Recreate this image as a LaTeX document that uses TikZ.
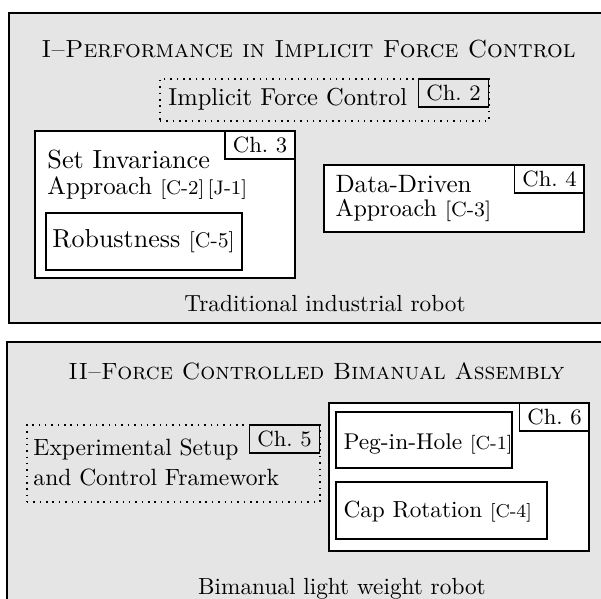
\documentclass[tikz,border=0pt]{standalone}
\usetikzlibrary{fit}
\newcommand{\fsz}[1]{\fontsize{#1}{#1}\selectfont}
\newcommand{\citeref}[2]{{\fsz{#1}#2}}
\begin{document}
\begin{tikzpicture}[x=0.408pt,y=-0.408pt,
  panel/.style={draw, line width=0.8pt, fill=gray!20, inner sep=0pt},
  box/.style={draw, line width=0.65pt, fill=white, inner sep=0pt},
  subbox/.style={draw, line width=0.5pt, fill=white, inner sep=0pt},
  dotbox/.style={draw, dotted, line width=0.6pt, inner sep=0pt},
  chbox/.style={draw, line width=0.55pt, inner sep=0pt,
    minimum width=70*0.408pt, minimum height=28*0.408pt, font=\fsz{9}},
  txt/.style={anchor=base west, inner sep=0pt},
  ctxt/.style={anchor=base, inner sep=0pt}]
\useasboundingbox (0,0) rectangle (601,598);
\clip (0,0) rectangle (601,598);
\fill[white] (0,0) rectangle (601,598);

% Panel I
\node[panel, fit={(9,13)(640,323)}] (p1) {};
\node[ctxt, font=\fsz{10.1}] (t1) at (308.5,57) {\textsc{I--Performance in Implicit Force Control}};

\node[dotbox, fit={(160,79)(489,121)}] (ifc) {};
\node[txt, font=\fsz{10}] (ifct) at (168,105) {Implicit Force Control};
\node[chbox] (ch2) at (453.5,93) {Ch.~2};

\node[box, fit={(35,131)(295,278)}] (si) {};
\node[chbox] (ch3) at (260,145) {Ch.~3};
\node[txt, font=\fsz{10.7}] (sit1) at (47,168) {Set Invariance};
\node[txt, font=\fsz{10.1}] (sit2) at (47,194) {Approach \citeref{8}{[C-2]\,[J-1]}};
\node[subbox, fit={(46,213)(242,270)}] (rob) {};
\node[txt, font=\fsz{10.6}] (robt) at (52,247) {Robustness \citeref{8.6}{[C-5]}};

\node[box, fit={(324,165)(584,232)}] (dd) {};
\node[chbox] (ch4) at (549.5,179) {Ch.~4};
\node[txt, font=\fsz{10.25}] (ddt1) at (335,192) {Data-Driven};
\node[txt, font=\fsz{9.8}] (ddt2) at (335,216) {Approach \citeref{8.4}{[C-3]}};

\node[ctxt, font=\fsz{9.5}] (r1) at (325,311) {Traditional industrial robot};

% Panel II
\node[panel, fit={(7,342)(640,640)}] (p2) {};
\node[ctxt, font=\fsz{9.6}] (t2) at (316.5,379) {\textsc{II--Force Controlled Bimanual Assembly}};

\node[dotbox, fit={(27,425)(320,502)}] (ex) {};
\node[chbox] (ch5) at (284.5,439) {Ch.~5};
\node[txt, font=\fsz{9.6}] (ext1) at (33,455) {Experimental Setup};
\node[txt, font=\fsz{9.6}] (ext2) at (33,485) {and Control Framework};

\node[box, fit={(329,403)(589,551)}] (bi) {};
\node[chbox] (ch6) at (554.5,417) {Ch.~6};
\node[subbox, fit={(336,412)(512,468)}] (peg) {};
\node[txt, font=\fsz{9.3}] (pegt) at (343,449) {Peg-in-Hole \citeref{7.7}{[C-1]}};
\node[subbox, fit={(336,482)(547,539)}] (cap) {};
\node[txt, font=\fsz{9.5}] (capt) at (343,517) {Cap Rotation \citeref{7.6}{[C-4]}};

\node[ctxt, font=\fsz{9.5}] (r2) at (342,594) {Bimanual light weight robot};
\end{tikzpicture}
\end{document}
